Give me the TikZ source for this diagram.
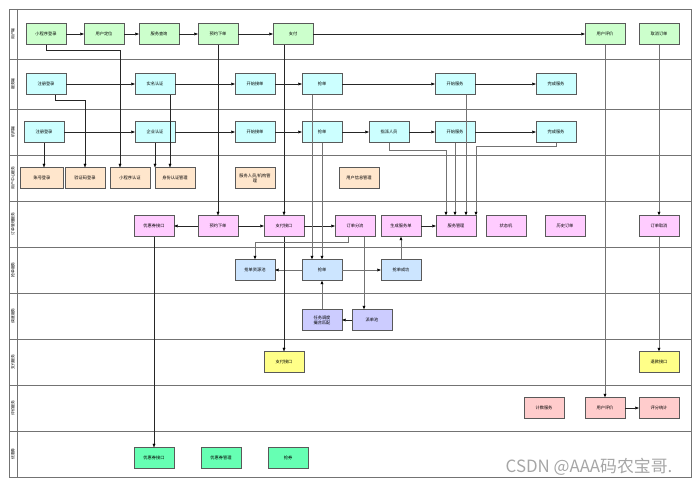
\documentclass[tikz,border=0pt]{standalone}
\usepackage{fontspec}
\setmainfont{Noto Sans CJK SC}
\usetikzlibrary{arrows.meta,shadows}

\definecolor{userfill}{HTML}{CCFFCC}
\definecolor{workfill}{HTML}{CCFFFF}
\definecolor{centerfill}{HTML}{FFE6CC}
\definecolor{orderfill}{HTML}{FFCCFF}
\definecolor{grabfill}{HTML}{CCE5FF}
\definecolor{dispfill}{HTML}{CCCCFF}
\definecolor{payfill}{HTML}{FFFF88}
\definecolor{ratefill}{HTML}{FFCCCC}
\definecolor{couponfill}{HTML}{66FFB3}

\begin{document}
\begin{tikzpicture}[
  x=0.5mm, y=-0.5mm,
  font=\fontsize{6}{7}\selectfont,
  box/.style={draw=black!65, fill=#1, minimum width=20mm, minimum height=10.5mm,
    align=center, inner sep=1pt, drop shadow={shadow xshift=0.35mm, shadow yshift=-0.35mm, fill=black!30}},
  lane/.style={draw=black!55, line width=0.8pt},
  lanelabel/.style={rotate=90, font=\fontsize{5.5}{6}\selectfont},
  arrow/.style={-{Triangle[length=1.8mm,width=1.4mm,color=black]}, draw=black!85, line width=0.5pt},
  garrow/.style={arrow, draw=black!55, line width=1pt}
]
\useasboundingbox (0,0) rectangle (700,489);

% swimlanes
\draw[lane] (9,9) rectangle (691,477);
\draw[lane] (17,9) -- (17,477);
\foreach \y in {59,109,155,201,247,293,339,385,431}
  \draw[lane] (9,\y) -- (691,\y);
\foreach \y/\t in {34/用户端, 84/服务端, 132/机构端, 178/用户中心服务, 224/订单管理服务,
                   270/抢单服务, 316/调度服务, 362/支付服务, 408/评价服务, 454/优惠券}
  \node[lanelabel] (lab\y) at (13,\y) {\t};

% user side
\node[box=userfill] (ulogin) at (46,34) {小程序登录};
\node[box=userfill] (uloc) at (104,34) {用户定位};
\node[box=userfill] (uquery) at (159,34) {服务查询};
\node[box=userfill] (uorder) at (218,34) {预约下单};
\node[box=userfill] (upay) at (293,34) {支付};
\node[box=userfill] (urate) at (605,34) {用户评价};
\node[box=userfill] (ucancel) at (659,34) {取消订单};

% worker side
\node[box=workfill] (wreg) at (46,84) {注册登录};
\node[box=workfill] (wreal) at (155,84) {实名认证};
\node[box=workfill] (wstart) at (255,84) {开始接单};
\node[box=workfill] (wgrab) at (322,84) {抢单};
\node[box=workfill] (wserve) at (455,84) {开始服务};
\node[box=workfill] (wdone) at (556,84) {完成服务};

% organisation side
\node[box=workfill] (oreg) at (44,132) {注册登录};
\node[box=workfill] (oauth) at (155,132) {企业认证};
\node[box=workfill] (ostart) at (255,132) {开始接单};
\node[box=workfill] (ograb) at (322,132) {抢单};
\node[box=workfill] (oassign) at (389,132) {指派人员};
\node[box=workfill] (oserve) at (455,132) {开始服务};
\node[box=workfill] (odone) at (556,132) {完成服务};

% user center service
\node[box=centerfill, minimum width=21.5mm] (cacc) at (42,178) {账号登录};
\node[box=centerfill] (ccode) at (85,178) {验证码登录};
\node[box=centerfill] (cmini) at (130,178) {小程序认证};
\node[box=centerfill] (cid) at (175,178) {身份认证管理};
\node[box=centerfill] (cstaff) at (255,178) {服务人员/机构管\\理};
\node[box=centerfill] (cinfo) at (359,178) {用户信息管理};

% order management service
\node[box=orderfill] (mcoupon) at (154,226) {优惠券接口};
\node[box=orderfill] (morder) at (218,226) {预约下单};
\node[box=orderfill] (mpay) at (284,226) {支付接口};
\node[box=orderfill] (msplit) at (355,226) {订单分流};
\node[box=orderfill] (mgen) at (401,226) {生成服务单};
\node[box=orderfill] (mserv) at (456,226) {服务管理};
\node[box=orderfill] (mstate) at (506,226) {状态机};
\node[box=orderfill] (mhist) at (565,226) {历史订单};
\node[box=orderfill] (mcancel) at (659,226) {订单取消};

% grab service
\node[box=grabfill] (gpool) at (255,270) {抢单资源池};
\node[box=grabfill] (ggrab) at (322,270) {抢单};
\node[box=grabfill] (gok) at (401,270) {抢单成功};

% dispatch service
\node[box=dispfill] (dmatch) at (322,320) {任务调度\\撮合匹配};
\node[box=dispfill] (dpool) at (372,320) {派单池};

% pay service
\node[box=payfill] (ppay) at (284,362) {支付接口};
\node[box=payfill] (prefund) at (659,362) {退款接口};

% rating service
\node[box=ratefill] (rcount) at (544,408) {计数服务};
\node[box=ratefill] (rrate) at (605,408) {用户评价};
\node[box=ratefill] (rstat) at (659,408) {评分统计};

% coupon service
\node[box=couponfill] (kcoupon) at (154,458) {优惠券接口};
\node[box=couponfill] (kmanage) at (221,458) {优惠券管理};
\node[box=couponfill] (kgrab) at (288,458) {抢券};

% flows inside lanes
\draw[arrow] (ulogin) -- (uloc);
\draw[arrow] (uloc) -- (uquery);
\draw[arrow] (uquery) -- (uorder);
\draw[arrow] (uorder) -- (upay);
\draw[arrow] (upay) -- (urate);
\draw[arrow] (wreg) -- (wreal);
\draw[arrow] (wreal) -- (wstart);
\draw[arrow] (wstart) -- (wgrab);
\draw[arrow] (wgrab) -- (wserve);
\draw[arrow] (wserve) -- (wdone);
\draw[arrow] (oreg) -- (oauth);
\draw[arrow] (oauth) -- (ostart);
\draw[arrow] (ostart) -- (ograb);
\draw[arrow] (ograb) -- (oassign);
\draw[arrow] (oassign) -- (oserve);
\draw[arrow] (oserve) -- (odone);
\draw[arrow] (morder) -- (mcoupon);
\draw[arrow] (morder) -- (mpay);
\draw[arrow] (mpay) -- (msplit);
\draw[arrow] (mgen) -- (mserv);
\draw[garrow] (ggrab) -- (gpool);
\draw[garrow] (ggrab) -- (gok);
\draw[arrow] (dpool) -- (dmatch);
\draw[arrow] (rrate) -- (rstat);

% flows between lanes
\draw[arrow] (ulogin.south) -- ++(0,6) -| ([xshift=-5mm]cmini.north);
\draw[arrow] ([xshift=4.5mm]wreg.south) -- ++(0,6) -| (ccode.north);
\draw[arrow] (oreg.south) -- (oreg.south |- cacc.north);
\draw[arrow] ([xshift=7.5mm]wreal.south) -- ([xshift=7.5mm]wreal.south |- cid.north);
\draw[arrow] (oauth.south) -- (oauth.south |- cid.north);
\draw[arrow] (uorder) -- (morder);
\draw[arrow] (mpay.north |- upay.south) -- (mpay.north);
\draw[garrow] ([xshift=-5mm]wgrab.south) -- ([xshift=-5mm]ggrab.north);
\draw[garrow] (ograb) -- (ggrab);
\draw[garrow] (oassign.south) -- ++(0,8) -| ([xshift=-5mm]mserv.north);
\draw[garrow] (oserve.south) -- (oserve.south |- mserv.north);
\draw[garrow] ([xshift=5.5mm]wserve.south) -- ([xshift=5.5mm]wserve.south |- mserv.north);
\draw[garrow] (odone.south) -- ++(0,4) -| ([xshift=10mm]mserv.north);
\draw[garrow] (urate) -- (rrate);
\draw[garrow] (ucancel) -- (mcancel);
\draw[garrow] (mcancel) -- (prefund);
\draw[arrow] (mcoupon) -- (kcoupon);
\draw[arrow] (mpay) -- (ppay);
\draw[garrow] ([xshift=-3.5mm]msplit.south) -- ++(0,6) -| (gpool.north);
\draw[garrow] ([xshift=4.5mm]msplit.south) -- ([xshift=4.5mm]msplit.south |- dpool.north);
\draw[garrow] (gok) -- (mgen);
\draw[garrow] (dmatch) -- (ggrab);

\node[text=black!35, font=\fontsize{24}{24}\selectfont] (mark) at (589,467) {CSDN @AAA码农宝哥.};
\end{tikzpicture}
\end{document}
